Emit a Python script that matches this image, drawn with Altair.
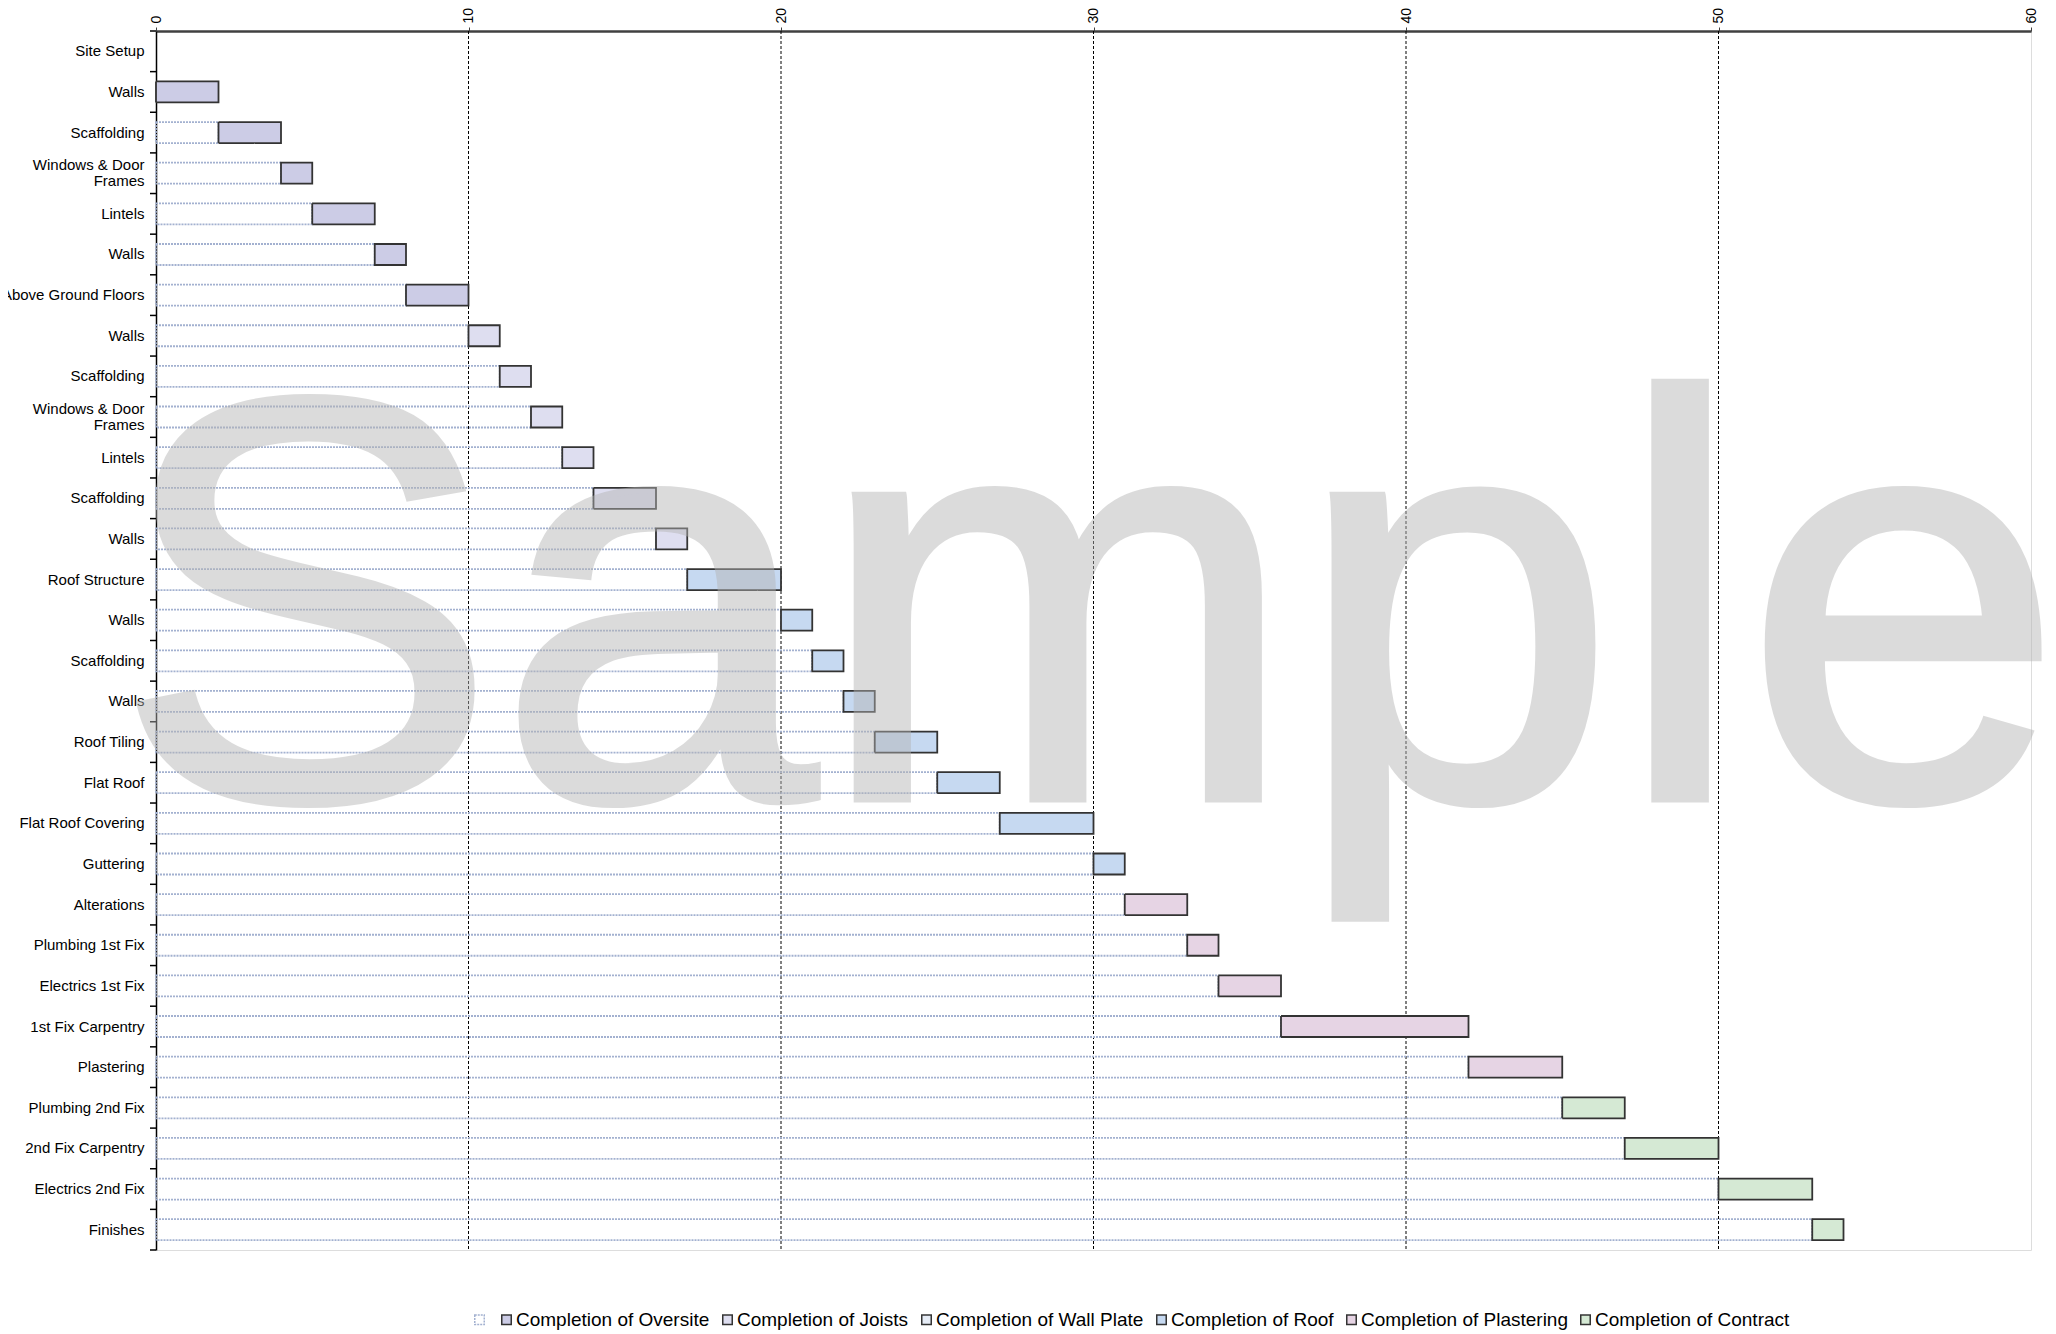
import json
import altair as alt
import pandas as pd

tasks = ["Site Setup", "Walls", "Scaffolding", "Windows & Door|Frames", "Lintels", "Walls",
         "Above Ground Floors", "Walls", "Scaffolding", "Windows & Door|Frames", "Lintels",
         "Scaffolding", "Walls", "Roof Structure", "Walls", "Scaffolding", "Walls", "Roof Tiling",
         "Flat Roof", "Flat Roof Covering", "Guttering", "Alterations", "Plumbing 1st Fix",
         "Electrics 1st Fix", "1st Fix Carpentry", "Plastering", "Plumbing 2nd Fix",
         "2nd Fix Carpentry", "Electrics 2nd Fix", "Finishes"]
starts = [0, 0, 2, 4, 5, 7, 8, 10, 11, 12, 13, 14, 16, 17, 20, 21, 22, 23, 25, 27, 30,
          31, 33, 34, 36, 42, 45, 47, 50, 53]
durations = [0, 2, 2, 1, 2, 1, 2, 1, 1, 1, 1, 2, 1, 3, 1, 1, 1, 2, 2, 3, 1,
             2, 1, 2, 6, 3, 2, 3, 3, 1]
groups = ["Completion of Oversite"] * 7 + ["Completion of Joists"] * 6 + \
         ["Completion of Roof"] * 8 + ["Completion of Plastering"] * 5 + \
         ["Completion of Contract"] * 4

series_names = [" ", "Completion of Oversite", "Completion of Joists", "Completion of Wall Plate",
                "Completion of Roof", "Completion of Plastering", "Completion of Contract"]
fill_colors = ["transparent", "#CCCCE6", "#DEDEF0", "#E6ECF6", "#C6D9F1", "#E6D4E4", "#D5E9D4"]
stroke_colors = ["#A3B1D0", "#333333", "#333333", "#333333", "#333333", "#333333", "#333333"]
x_ticks = [0, 10, 20, 30, 40, 50, 60]
grid_values = [10, 20, 30, 40, 50]

recs = []
for i, (s, d, g) in enumerate(zip(starts, durations, groups)):
    if s > 0:
        recs.append({"row": i, "x0": 0, "x1": s, "series": " "})
    if d > 0:
        recs.append({"row": i, "x0": s, "x1": s + d, "series": g})
df = pd.DataFrame(recs)
rows_df = pd.DataFrame({"row": list(range(len(tasks)))})
grid_df = pd.DataFrame({"v": grid_values})
wm_df = pd.DataFrame({"t": ["Sample"]})

W, H = 1875, 1219
FONT = "Liberation Sans"

yscale = alt.Scale(type="band", domain=list(range(len(tasks))), paddingInner=0, paddingOuter=0)
xscale = alt.Scale(domain=[0, 60], nice=False)

label_expr = "split(" + json.dumps(tasks) + "[datum.value], '|')"
two_line = [i for i, t in enumerate(tasks) if "|" in t]
two_line_test = " || ".join("datum.value == %d" % i for i in two_line)

legend_kw = dict(title=None, orient="none", direction="horizontal",
                 legendX=314, legendY=1279, symbolType="square",
                 symbolSize=90, symbolStrokeWidth=1.5, labelFont=FONT,
                 labelFontSize=19, labelColor="#000000", labelOffset=0,
                 columnPadding=8, columns=7, labelLimit=0)

grid = alt.Chart(grid_df).mark_rule(color="#000000", strokeDash=[3, 2], strokeWidth=1).encode(
    x=alt.X("v:Q", scale=xscale)
)

bars = alt.Chart(df).mark_bar(size=21, strokeWidth=1.8).encode(
    x=alt.X("x0:Q", scale=xscale,
            axis=alt.Axis(orient="top", values=x_ticks, labelAngle=270, tickSize=4,
                          domainColor="#404040", domainWidth=2.5, tickColor="#404040",
                          labelFont=FONT, labelFontSize=14, labelColor="#000000",
                          labelPadding=4, grid=False, title=None)),
    x2="x1:Q",
    y=alt.Y("row:O", scale=yscale,
            axis=alt.Axis(orient="left", labelExpr=label_expr, ticks=False, domainColor="#000000",
                          domainWidth=1.5, labelFont=FONT, labelFontSize=15, labelColor="#000000",
                          labelPadding=12, labelLimit=400, labelLineHeight=16, title=None,
                          labelOffset={"condition": {"test": two_line_test, "value": -8},
                                       "value": 0},
                          grid=False)),
    fill=alt.Fill("series:N", scale=alt.Scale(domain=series_names, range=fill_colors),
                  legend=alt.Legend(**legend_kw)),
    stroke=alt.Stroke("series:N", scale=alt.Scale(domain=series_names, range=stroke_colors),
                      legend=alt.Legend(**legend_kw)),
    strokeDash=alt.StrokeDash("series:N",
                              scale=alt.Scale(domain=series_names,
                                              range=[[2, 1]] + [[1, 0]] * 6),
                              legend=None),
)

yticks = alt.Chart(rows_df).mark_rule(color="#000000", strokeWidth=1.5).encode(
    y=alt.Y("row:O", scale=yscale, bandPosition=0),
    x=alt.value(-6), x2=alt.value(0)
)
bottom_tick = alt.Chart(wm_df).mark_rule(color="#000000", strokeWidth=1.5).encode(
    y=alt.value(H), x=alt.value(-6), x2=alt.value(0)
)

watermark = alt.Chart(wm_df).mark_text(
    font=FONT, fontSize=575, color="#b4b4b4", opacity=0.47, align="left",
    baseline="alphabetic", stroke="#b4b4b4", strokeWidth=7
).encode(text="t:N", x=alt.value(-42), y=alt.value(768))

chart = alt.layer(grid, bars, yticks, bottom_tick, watermark).properties(
    width=W, height=H,
    autosize=alt.AutoSizeParams(type="none"),
    padding={"left": 148, "top": 23, "right": 17, "bottom": 86},
).configure_view(stroke="#8a8a8a", strokeWidth=1.5).configure(background="white")

chart.save("out.html", embed_options={"renderer": "svg", "actions": False})
